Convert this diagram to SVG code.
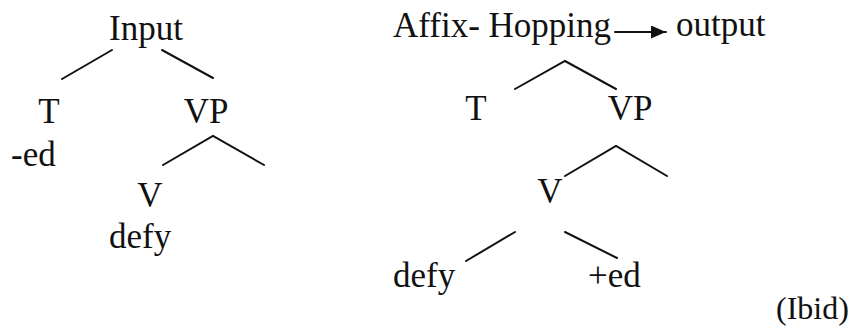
<svg xmlns="http://www.w3.org/2000/svg" width="863" height="331" viewBox="0 0 863 331">
<defs>
<style>
text{font-family:"Liberation Serif","Times New Roman",serif;font-size:35px;fill:#111;}
.e{stroke:#111;stroke-width:2;fill:none;stroke-linecap:round;}
</style>
<marker id="ah" markerWidth="16" markerHeight="13" refX="15" refY="6.5" orient="auto" markerUnits="userSpaceOnUse">
<path d="M0,0 L15,6.5 L0,13 Z" fill="#111"/>
</marker>
</defs>
<rect width="863" height="331" fill="#fff"/>
<g id="connectors">
<line class="e" x1="112" y1="50" x2="62" y2="79"/>
<line class="e" x1="162" y1="50" x2="213" y2="78"/>
<polyline class="e" points="163,165 213,136 264,165"/>
<polyline class="e" points="515,89 565,61 616,89"/>
<polyline class="e" points="565,176 616,146 667,176"/>
<line class="e" x1="515" y1="232" x2="466" y2="261"/>
<line class="e" x1="565" y1="232" x2="617" y2="258"/>
<line class="e" x1="615" y1="32" x2="666" y2="32" marker-end="url(#ah)"/>
</g>
<g id="n-input"><text x="109" y="40">Input</text></g>
<g id="n-t1"><text x="49" y="123" text-anchor="middle">T</text></g>
<g id="n-ed1"><text x="11" y="166">-ed</text></g>
<g id="n-vp1"><text x="206" y="123" text-anchor="middle">VP</text></g>
<g id="n-v1"><text x="150" y="207" text-anchor="middle">V</text></g>
<g id="n-defy1"><text x="109" y="248">defy</text></g>
<g id="n-affix"><text x="393" y="37">Affix- Hopping</text></g>
<g id="n-output"><text x="676" y="36">output</text></g>
<g id="n-t2"><text x="476" y="120" text-anchor="middle">T</text></g>
<g id="n-vp2"><text x="630" y="120" text-anchor="middle">VP</text></g>
<g id="n-v2"><text x="550" y="203" text-anchor="middle">V</text></g>
<g id="n-defy2"><text x="393" y="287">defy</text></g>
<g id="n-ed2"><text x="588" y="287">+ed</text></g>
<g id="n-ibid"><text x="776" y="319" style="font-size:32px">(Ibid)</text></g>
</svg>
